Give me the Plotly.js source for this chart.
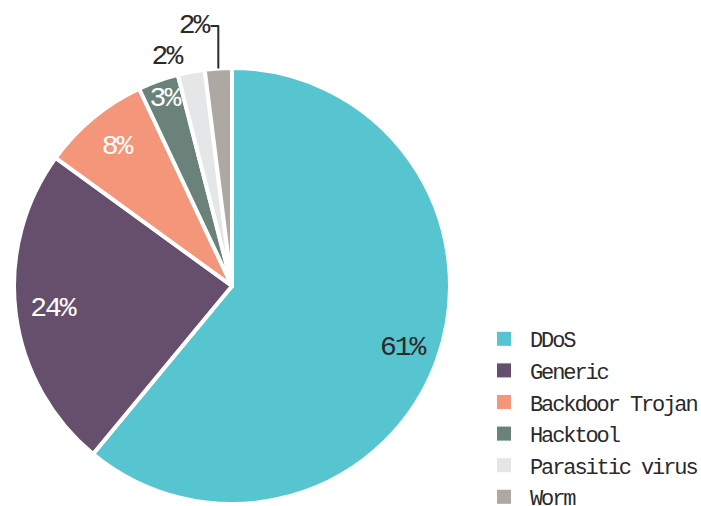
<!DOCTYPE html>
<html>
<head>
<meta charset="utf-8">
<script src="https://cdn.plot.ly/plotly-3.0.1.min.js"></script>
<style>
html,body{margin:0;padding:0;background:#fff;overflow:hidden;}
#chart{width:701px;height:506px;}
#chart .legendtext{letter-spacing:-2.1px;}
#chart .slicetext{letter-spacing:-2px;}
#chart .legendpoints path{stroke-width:0 !important;transform:translate(14px,0px) scale(1.17);}
</style>
</head>
<body>
<div id="chart"></div>
<script>
const categories = ["DDoS", "Generic", "Backdoor Trojan", "Hacktool", "Parasitic virus", "Worm"];
const shares = [61, 24, 8, 3, 2, 2];
const sliceColors = ["#56C5D0", "#664F6C", "#F4967A", "#6A8279", "#E5E6E8", "#ADA8A1"];
const labelColors = ["#2a2a2a", "#ffffff", "#ffffff", "#ffffff", "#2a2a2a", "#2a2a2a"];
const labelPositions = ["inside", "inside", "inside", "inside", "outside", "outside"];

const FONT = "Liberation Mono";
const fontList = categories.map(() => FONT);
const pieDomain = { x: [0.02, 0.6419], y: [0.004, 0.8656] };

const data = [
  {
    type: "pie",
    labels: categories,
    values: shares,
    sort: false,
    direction: "clockwise",
    rotation: 0,
    marker: { colors: sliceColors, line: { color: "#ffffff", width: 4 } },
    textinfo: "none",
    hoverinfo: "label+percent",
    domain: pieDomain
  },
  {
    // transparent ring that carries the percentage labels near the rim
    type: "pie",
    labels: categories,
    values: shares,
    sort: false,
    direction: "clockwise",
    rotation: 0,
    hole: 0.66,
    showlegend: false,
    marker: { colors: categories.map(() => "rgba(0,0,0,0)"), line: { width: 0 } },
    texttemplate: "%{percent:.0%}",
    textposition: labelPositions,
    insidetextorientation: "horizontal",
    textfont: { family: fontList, size: 28, color: labelColors },
    insidetextfont: { family: fontList, size: 28, color: labelColors },
    outsidetextfont: { family: fontList, size: 28, color: "#2a2a2a" },
    hoverinfo: "skip",
    domain: pieDomain
  }
];

const layout = {
  width: 701,
  height: 506,
  margin: { l: 0, r: 0, t: 0, b: 0, autoexpand: false },
  paper_bgcolor: "#ffffff",
  showlegend: true,
  uniformtext: { mode: "show", minsize: 28 },
  legend: {
    x: 0.699, y: -0.0237, xanchor: "left", yanchor: "bottom",
    font: { family: FONT, size: 22, color: "#2a2a2a" },
    itemwidth: 30,
    tracegroupgap: 0
  }
};

Plotly.newPlot("chart", data, layout, { displayModeBar: false, staticPlot: true });
</script>
</body>
</html>
